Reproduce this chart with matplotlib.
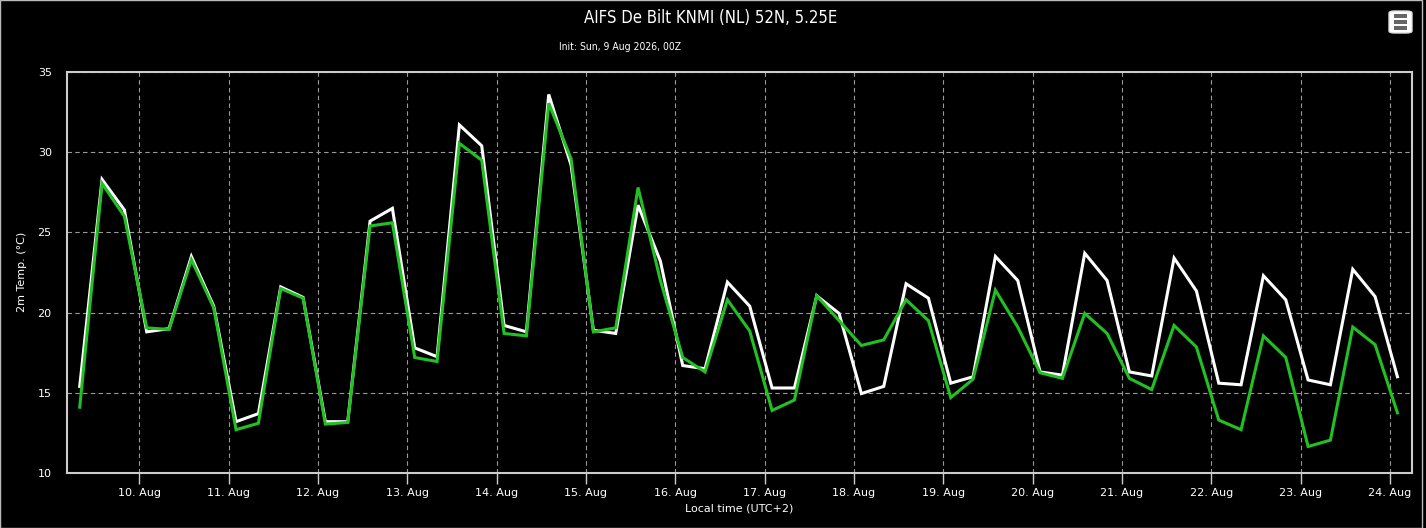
import numpy as np
import pandas as pd
import matplotlib
matplotlib.use("Agg")
import matplotlib.pyplot as plt
import matplotlib.dates as mdates
from matplotlib.patches import FancyBboxPatch, Rectangle

# 6-hourly forecast steps, local time (UTC+2)
times = pd.date_range("2026-08-09 08:00", "2026-08-24 02:00", freq="6h")

# 2m temperature, white series
temp_white = [15.4, 28.3, 26.4, 18.8, 19.0, 23.5, 20.4, 13.2, 13.7, 21.6,
              20.95, 13.2, 13.2, 25.7, 26.5, 17.8, 17.25, 31.7, 30.4, 19.2,
              18.8, 33.6, 29.2, 18.9, 18.7, 26.7, 23.2, 16.7, 16.5, 21.9,
              20.4, 15.3, 15.3, 21.05, 19.95, 14.95, 15.4, 21.8, 20.9, 15.6,
              16.0, 23.5, 22.0, 16.3, 16.1, 23.7, 22.0, 16.3, 16.05, 23.4,
              21.35, 15.6, 15.5, 22.3, 20.8, 15.8, 15.5, 22.7, 21.0, 16.0]

# 2m temperature, green series
temp_green = [14.1, 28.05, 26.0, 19.05, 18.95, 23.3, 20.3, 12.7, 13.1, 21.5,
              20.9, 13.05, 13.15, 25.4, 25.6, 17.2, 16.95, 30.55, 29.5, 18.7,
              18.55, 33.05, 29.6, 18.8, 19.05, 27.8, 22.0, 17.2, 16.3, 20.8,
              18.85, 13.9, 14.55, 21.05, 19.5, 17.95, 18.3, 20.8, 19.5, 14.7,
              15.85, 21.4, 19.1, 16.25, 15.9, 19.95, 18.7, 15.9, 15.2, 19.2,
              17.85, 13.3, 12.7, 18.55, 17.2, 11.65, 12.05, 19.1, 18.0, 13.75]

title = "AIFS De Bilt KNMI (NL) 52N, 5.25E"
subtitle = "Init: Sun, 9 Aug 2026, 00Z"

W, H = 1426, 528
fig = plt.figure(figsize=(W / 100, H / 100), dpi=100, facecolor="black")
ax = fig.add_axes([67 / W, 1 - 473 / H, (1412 - 67) / W, (473 - 72) / H])
ax.set_facecolor("black")

ax.plot(times, temp_white, color="white", lw=2.2, solid_joinstyle="miter", zorder=3)
ax.plot(times, temp_green, color="#22c022", lw=2.2, solid_joinstyle="miter", zorder=4)

ax.set_ylim(10, 35)
ax.set_yticks(range(10, 36, 5))
ax.set_xlim(pd.Timestamp("2026-08-09 04:35"), pd.Timestamp("2026-08-24 05:55"))
ax.xaxis.set_major_locator(mdates.DayLocator())
ax.xaxis.set_major_formatter(mdates.DateFormatter("%-d. %b"))

ax.grid(True, color="#9a9a9a", linestyle=(0, (4, 3)), linewidth=0.8)
for s in ax.spines.values():
    s.set_color("#cccccc")
    s.set_linewidth(1.5)

ax.tick_params(axis="x", colors="#cccccc", length=8, width=1, labelcolor="white",
               labelsize=8, pad=3)
ax.tick_params(axis="y", length=0, labelcolor="white", labelsize=8, pad=11)

ax.set_xlabel("Local time (UTC+2)", color="white", fontsize=8, labelpad=4)
fig.text(22 / W, 1 - 272 / H, "2m Temp. (°C)", color="white", fontsize=8,
         rotation=90, ha="center", va="center")

fig.text(711 / W, 1 - 18 / H, title, color="white", fontsize=12, ha="center", va="center",
         fontstretch="condensed")
fig.text(620 / W, 1 - 47 / H, subtitle, color="white", fontsize=7.5, ha="center", va="center",
         fontstretch="condensed")

# menu button
btn = FancyBboxPatch((1389 / W, 1 - 33 / H), 23 / W, 22 / H,
                     boxstyle="round,pad=0,rounding_size=0.004",
                     transform=fig.transFigure, facecolor="white", edgecolor="#dddddd")
fig.patches.append(btn)
for yb in (16, 22, 28):
    fig.patches.append(Rectangle((1394 / W, 1 - (yb + 1.5) / H), 13 / W, 3 / H,
                                 transform=fig.transFigure, facecolor="#666666",
                                 edgecolor="none"))

# outer frame
fig.patches.append(Rectangle((0, 0), 1422 / W, 1, transform=fig.transFigure,
                             fill=False, edgecolor="#bbbbbb", linewidth=1))

fig.savefig("out.png", dpi=100, facecolor="black")
